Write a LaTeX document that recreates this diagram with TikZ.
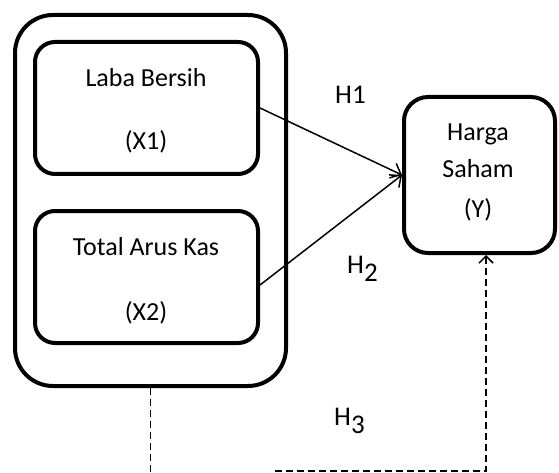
\documentclass[tikz,border=0pt]{standalone}
\usepackage{fontspec}
\setmainfont{Carlito}
\usetikzlibrary{arrows.meta}
\begin{document}
\begin{tikzpicture}[x=1pt,y=-1pt,
  bx/.style={draw, line width=4pt, rounded corners=#1, minimum width=0pt, inner sep=0pt},
  txt/.style={anchor=base, inner sep=0pt, font=\fontsize{26}{30}\selectfont},
  hl/.style={anchor=base west, inner sep=0pt, font=\fontsize{27}{30}\selectfont},
  conn/.style={line width=1.5pt, -{Straight Barb[length=9pt,width=16pt,line width=1.5pt]}},
  dsh/.style={line width=1.5pt, dash pattern=on 7pt off 4pt}]
\useasboundingbox (0,0) rectangle (559,473);
% boxes
\node[bx=38pt, minimum width=271pt, minimum height=371pt] (o) at (150.5,200.5) {};
\node[bx=20pt, minimum width=223pt, minimum height=132pt] (i1) at (146.5,108) {};
\node[bx=20pt, minimum width=223pt, minimum height=132pt] (i2) at (146.5,277) {};
\node[bx=24pt, minimum width=151pt, minimum height=156pt] (h) at (479.5,175) {};
% texts
\node[txt] (t1a) at (146,87) {Laba Bersih};
\node[txt] (t1b) at (146,150) {(X1)};
\node[txt] (t2a) at (146,255) {Total Arus Kas};
\node[txt] (t2b) at (146,320) {(X2)};
\node[txt] (ha) at (478,141) {Harga};
\node[txt] (hb) at (478,178) {Saham};
\node[txt] (hc) at (478,217) {(Y)};
% hypothesis labels
\node[hl] (H1) at (335,104) {H1};
\node[hl] (H2) at (347,273) {H\raisebox{-8pt}{2}};
\node[hl] (H3) at (334,425) {H\raisebox{-8pt}{3}};
% connectors
\draw[conn] (i1.east) -- (h.west);
\draw[conn] ([yshift=-8pt]i2.east) -- (h.west);
\coordinate (d1) at (149,473);
\coordinate (d2) at (275,471);
\coordinate (d3) at (486,471);
\draw[dsh] (o.south) -- (o.south |- d1);
\draw[dsh, -{Straight Barb[length=7pt,width=14pt,line width=1.5pt]}] (d2) -- (d3) -- (d3 |- h.south);
\end{tikzpicture}
\end{document}
